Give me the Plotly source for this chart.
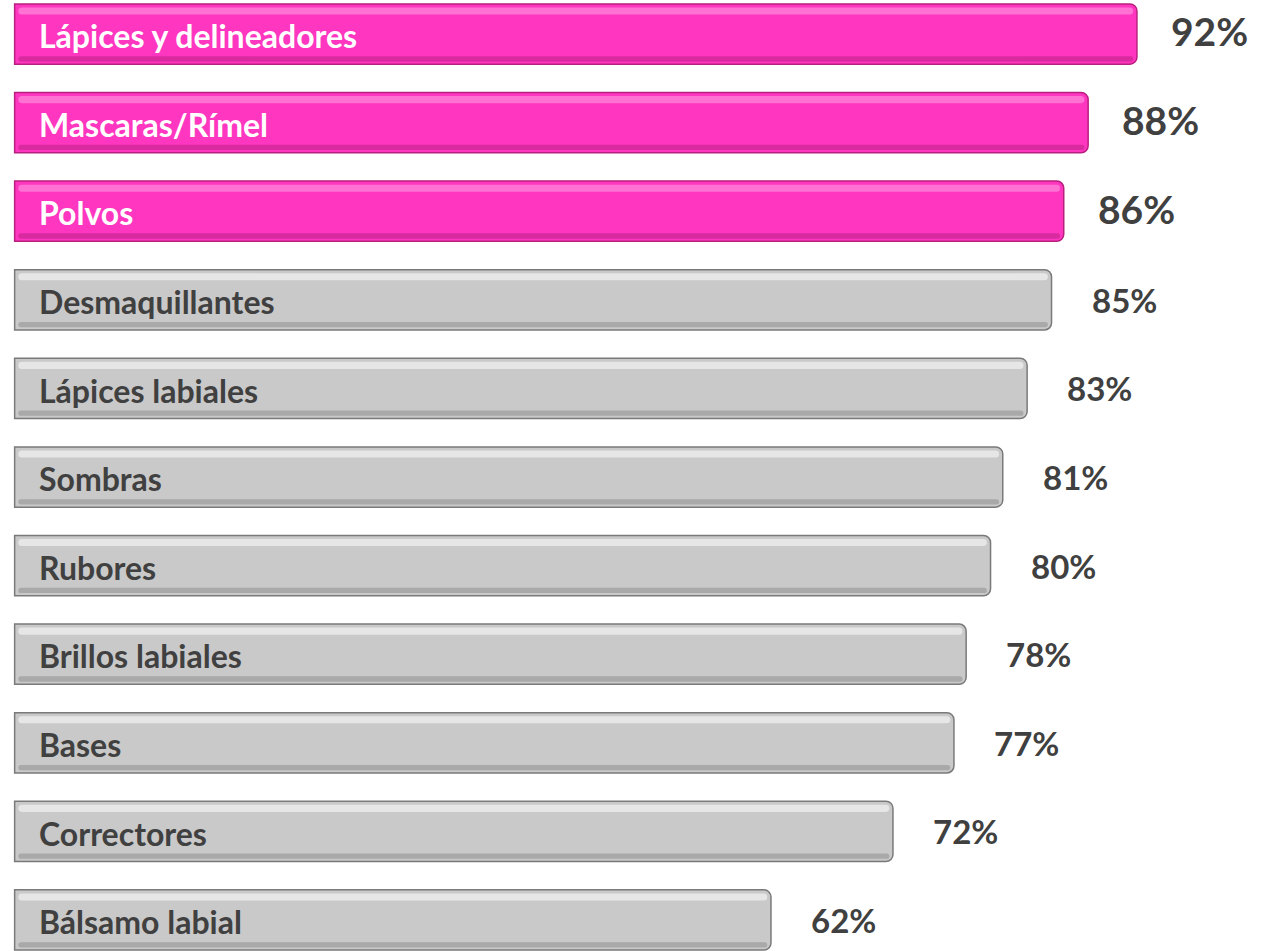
import plotly.graph_objects as go

categories = ["Lápices y delineadores", "Mascaras/Rímel", "Polvos", "Desmaquillantes",
              "Lápices labiales", "Sombras", "Rubores", "Brillos labiales", "Bases",
              "Correctores", "Bálsamo labial"]
values = [92, 88, 86, 85, 83, 81, 80, 78, 77, 72, 62]
highlighted = [True, True, True, False, False, False, False, False, False, False, False]

PINK = "#FF36BF"
PINK_EDGE = "#B8207F"
GRAY = "#C9C9C9"
GRAY_EDGE = "#7A7A7A"
TEXT = "#404040"
FONT = "Lato"

idx = list(range(len(categories)))
fill = [PINK if h else GRAY for h in highlighted]
edge = [PINK_EDGE if h else GRAY_EDGE for h in highlighted]
light = ["rgba(255,140,220,0.7)" if h else "rgba(238,238,238,0.8)" for h in highlighted]
dark = ["rgba(150,20,100,0.35)" if h else "rgba(110,110,110,0.35)" for h in highlighted]

fig = go.Figure()
fig.add_trace(go.Bar(
    y=idx, x=values, orientation="h", width=0.68,
    marker=dict(color=fill, line=dict(color=edge, width=1.5)),
    hoverinfo="skip", showlegend=False,
))
fig.add_trace(go.Bar(
    y=idx, x=[v - 0.6 for v in values], base=0.3, orientation="h", width=0.08, offset=-0.30,
    marker=dict(color=light, line=dict(width=0)),
    hoverinfo="skip", showlegend=False,
))
fig.add_trace(go.Bar(
    y=idx, x=[v - 0.6 for v in values], base=0.3, orientation="h", width=0.06, offset=0.25,
    marker=dict(color=dark, line=dict(width=0)),
    hoverinfo="skip", showlegend=False,
))

for i, (c, v, h) in enumerate(zip(categories, values, highlighted)):
    fig.add_annotation(
        x=1.85, y=i + 0.02, text=f"<b>{c}</b>", showarrow=False, xanchor="left", yanchor="middle",
        font=dict(family=FONT, size=32, color="white" if h else TEXT),
    )
    fig.add_annotation(
        x=v, y=i - (0.03 if h else 0.0), text=f"<b>{v}%</b>", showarrow=False, xanchor="left",
        yanchor="middle", xshift=32 if h else 38,
        font=dict(family=FONT, size=39 if h else 33, color=TEXT),
    )

fig.update_layout(
    width=1276, height=951,
    margin=dict(l=0, r=0, t=0, b=0),
    paper_bgcolor="white", plot_bgcolor="white",
    barmode="overlay", barcornerradius=7,
    xaxis=dict(range=[-1.2, 103.4], visible=False, fixedrange=True),
    yaxis=dict(range=[10.35, -0.384], visible=False, fixedrange=True),
)

fig.write_html("out.html")
